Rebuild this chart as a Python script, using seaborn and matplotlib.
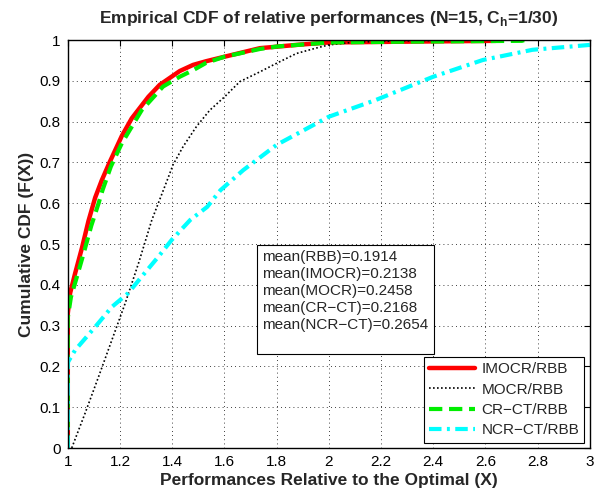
import numpy as np
import pandas as pd
import matplotlib
matplotlib.use("Agg")
import matplotlib.pyplot as plt
import seaborn as sns

# values (x = relative performance, F = empirical CDF)
imocr_x = [1.0, 1.0, 1.009, 1.028, 1.054, 1.079, 1.105, 1.13, 1.16, 1.207, 1.245, 1.309,
           1.352, 1.386, 1.429, 1.48, 1.53, 1.6, 1.736, 1.876, 2.0, 2.3, 2.64, 2.65]
imocr_y = [0.0, 0.33, 0.38, 0.428, 0.49, 0.556, 0.614, 0.656, 0.70, 0.765, 0.808, 0.861,
           0.89, 0.905, 0.924, 0.939, 0.948, 0.959, 0.98, 0.988, 0.994, 0.996, 0.998, 1.0]

mocr_x = [1.0, 1.015, 1.066, 1.118, 1.169, 1.22, 1.271, 1.322, 1.386, 1.403, 1.442, 1.493,
          1.544, 1.601, 1.659, 1.736, 1.80, 1.876, 1.95, 2.0, 2.1, 2.3, 2.6]
mocr_y = [0.0, 0.0, 0.085, 0.175, 0.265, 0.355, 0.453, 0.559, 0.665, 0.694, 0.739, 0.788,
          0.828, 0.861, 0.898, 0.922, 0.943, 0.967, 0.98, 0.988, 0.995, 0.998, 1.0]

crct_x = [1.0, 1.0, 1.012, 1.035, 1.062, 1.09, 1.118, 1.133, 1.165, 1.207, 1.283, 1.365,
          1.429, 1.48, 1.53, 1.6, 1.736, 1.8, 2.0, 2.3, 2.74, 2.75]
crct_y = [0.0, 0.32, 0.37, 0.42, 0.48, 0.545, 0.60, 0.632, 0.69, 0.747, 0.828, 0.886,
          0.910, 0.926, 0.944, 0.959, 0.978, 0.984, 0.994, 0.996, 0.998, 1.0]

ncrct_x = [1.0, 1.0, 1.028, 1.105, 1.169, 1.232, 1.283, 1.347, 1.398, 1.469, 1.534, 1.585,
           1.672, 1.8, 2.0, 2.18, 2.4, 2.59, 2.78, 3.0]
ncrct_y = [0.0, 0.21, 0.24, 0.297, 0.346, 0.38, 0.42, 0.469, 0.51, 0.559, 0.591, 0.632,
           0.681, 0.743, 0.812, 0.853, 0.91, 0.951, 0.976, 0.988]

labels = ["IMOCR/RBB", "MOCR/RBB", "CR\u2212CT/RBB", "NCR\u2212CT/RBB"]
means = [("RBB", "0.1914"), ("IMOCR", "0.2138"), ("MOCR", "0.2458"),
         ("CR\u2212CT", "0.2168"), ("NCR\u2212CT", "0.2654")]

sns.set_style("white")
plt.rcParams["font.family"] = ["Liberation Sans", "DejaVu Sans"]

fig = plt.figure(figsize=(6, 4.94), dpi=100)
ax = fig.add_axes([0.113, 0.093, 0.87, 0.826])

series = [
    (imocr_x, imocr_y, dict(color="red", lw=3.2, ls="-")),
    (mocr_x, mocr_y, dict(color="black", lw=1.2, ls=(0, (1, 1.4)))),
    (crct_x, crct_y, dict(color="#00ee00", lw=3.0, ls=(0, (3.2, 1.6)))),
    (ncrct_x, ncrct_y, dict(color="cyan", lw=3.0, ls=(0, (3.0, 1.3, 0.7, 1.3)))),
]
for (xs, ys, st), lab in zip(series, labels):
    df = pd.DataFrame({"x": xs, "F": ys})
    sns.lineplot(data=df, x="x", y="F", ax=ax, sort=False, estimator=None,
                 label=lab, **st)

ax.set_xlim(1, 3)
ax.set_ylim(0, 1)
ax.set_xticks(np.arange(1, 3.01, 0.2))
ax.set_xticklabels(["1", "1.2", "1.4", "1.6", "1.8", "2", "2.2", "2.4", "2.6", "2.8", "3"])
ax.set_yticks(np.arange(0, 1.01, 0.1))
ax.set_yticklabels(["0", "0.1", "0.2", "0.3", "0.4", "0.5", "0.6", "0.7", "0.8", "0.9", "1"])
ax.tick_params(direction="in", length=4, width=0.8, top=True, right=True,
               labelsize=11, colors="black", pad=5)
ax.grid(True, color="black", ls=(0, (1, 4)), lw=0.6)
for sp in ax.spines.values():
    sp.set_color("black")
    sp.set_linewidth(1.0)

ax.set_title("Empirical CDF of relative performances (N=15, C$_\\mathregular{h}$=1/30)",
             fontsize=12.5, fontweight="bold", pad=12)
ax.set_xlabel("Performances Relative to the Optimal (X)", fontsize=12.5, fontweight="bold",
              labelpad=3)
ax.set_ylabel("Cumulative CDF (F(X))", fontsize=12.5, fontweight="bold", labelpad=4)

txt = "\n".join(f"mean({n})={v}" for n, v in means) + "\n "
ax.text(0.372, 0.485, txt, transform=ax.transAxes, fontsize=11, va="top", ha="left",
        linespacing=1.27,
        bbox=dict(boxstyle="square,pad=0.35", facecolor="white", edgecolor="black", lw=0.8))

leg = ax.legend(loc="lower right", fontsize=11, handlelength=3.0, frameon=True, fancybox=False,
                framealpha=1, edgecolor="black", borderpad=0.35, labelspacing=0.42,
                handletextpad=0.4, borderaxespad=0.35)
leg.get_frame().set_linewidth(0.8)

fig.savefig("out.png", dpi=100)
